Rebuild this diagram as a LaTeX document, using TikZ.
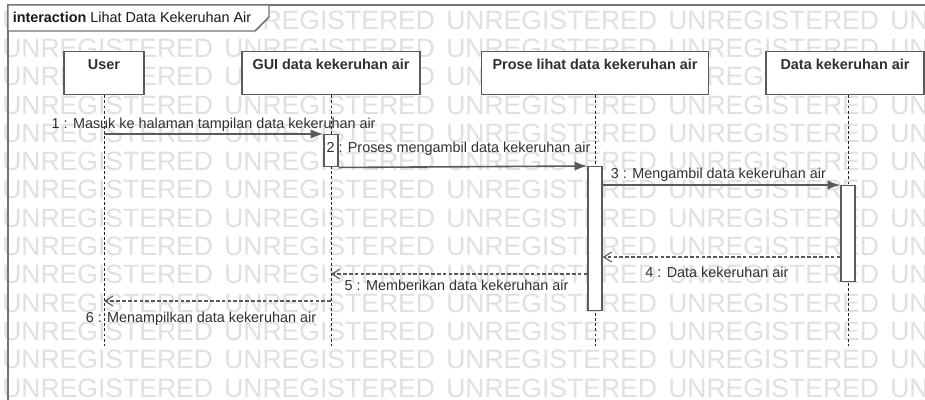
\documentclass[tikz,border=0pt]{standalone}
\usepackage{fontspec}
\setmainfont{Liberation Sans}
\usepackage{tikz}
\usetikzlibrary{arrows.meta}
\definecolor{umlline}{HTML}{5A5A5A}
\definecolor{umltext}{HTML}{303030}
\definecolor{wmark}{HTML}{E0E0E0}
\tikzstyle{frame}=[draw=umlline!85, line width=1.1pt]
\tikzstyle{lifebox}=[draw=umlline, fill=white, line width=1.1pt, anchor=north,% the head of a lifeline
font=\fontsize{10.8}{13}\selectfont\bfseries, text=umltext, inner xsep=0pt, inner ysep=5.25pt, text height=8pt, text depth=13.7pt]
\tikzstyle{actbox}=[draw=umlline, fill=white, line width=1.1pt, anchor=north, minimum width=10.5pt, inner sep=0pt]
\tikzstyle{lifeline}=[draw=black!85, line width=0.75pt, dash pattern=on 2.2pt off 1.6pt]
\tikzstyle{call}=[draw=umlline, line width=1.2pt, -{Latex[length=9.5pt,width=7pt]}]
\tikzstyle{reply}=[draw=umlline, line width=0.8pt, dash pattern=on 2.8pt off 1.6pt, -{Straight Barb[length=6pt,width=7.5pt]}]
\tikzstyle{msg}=[font=\fontsize{10.8}{13}\selectfont, text=umltext, anchor=base, inner sep=0pt]
\tikzstyle{wmtext}=[font=\fontsize{19.9}{24}\selectfont, text=wmark, anchor=base west, inner sep=0pt]

\begin{document}
\begin{tikzpicture}[x=0.75pt,y=-0.75pt]
\useasboundingbox (0,0) rectangle (925,400);
\clip (0,0) rectangle (925,400);
\fill[white] (0,0) rectangle (925,400);
\foreach \row in {0,...,13} {
  \foreach \col in {0,...,3}
    \node[wmtext] (wm-\row-\col) at (2+222*\col, 397-28.3*\row) {UNREGISTERED};
  \node[wmtext] (wm-\row-4) at (890, 397-28.3*\row) {UN};
}
\draw[frame] (8,5) rectangle (940,420);
\draw[frame, fill=white] (8,5) -- (269,5) -- (269,17) -- (255,31) -- (8,31) -- cycle;
\node[anchor=base west, inner sep=0pt, font=\fontsize{10.8}{13}\selectfont, text=black!90] (title) at (12.5,22) {\textbf{interaction} Lihat Data Kekeruhan Air};

\node[lifebox, minimum width=60pt] (user) at (104,51) {User};
\node[lifebox, minimum width=133.5pt] (gui) at (331,51) {GUI data kekeruhan air};
\node[lifebox, minimum width=170.25pt] (prose) at (595,51) {Prose lihat data kekeruhan air};
\node[lifebox, minimum width=118.5pt] (data) at (845,51) {Data kekeruhan air};

\coordinate (uend) at (104,346);
\coordinate (gend) at (331,346);
\coordinate (pend) at (595,346);
\coordinate (dend) at (848,346);
\draw[lifeline] (user.south) -- (uend);
\draw[lifeline] (gui.south) -- (gend);
\draw[lifeline] (prose.south) -- (pend);
\draw[lifeline] ([xshift=2.25pt]data.south) -- (dend);

\node[actbox, minimum height=24pt] (gact) at (331,134) {};
\node[actbox, minimum height=108pt] (pact) at (595,166) {};
\node[actbox, minimum height=72pt] (dact) at (848,185) {};

\coordinate (u1) at (user |- 0,134);
\coordinate (g5) at (gui |- 0,274);
\coordinate (g6) at (gui |- 0,301);
\coordinate (u6) at (user |- 0,301);
\draw[call] (u1) -- (gact.north west) node[msg, midway, yshift=4.5pt] {1 : Masuk ke halaman tampilan data kekeruhan air};
\draw[call] (gact.south east) -- (pact.north west) node[msg, midway, xshift=-3.4pt, yshift=10.5pt] {2 : Proses mengambil data kekeruhan air};
\draw[call] (pact.east |- dact.north) -- (dact.north west) node[msg, midway, xshift=-2.25pt, yshift=5.25pt] {3 : Mengambil data kekeruhan air};
\draw[reply] (dact.west |- 0,257) -- (pact.east |- 0,257) node[msg, midway, xshift=-3.4pt, yshift=-15pt] {4 : Data kekeruhan air};
\draw[reply] (pact.west |- 0,274) -- (g5) node[msg, midway, xshift=-1.9pt, yshift=-12pt] {5 : Memberikan data kekeruhan air};
\draw[reply] (g6) -- (u6) node[msg, midway, xshift=-12.4pt, yshift=-15.75pt] {6 : Menampilkan data kekeruhan air};
\end{tikzpicture}
\end{document}
